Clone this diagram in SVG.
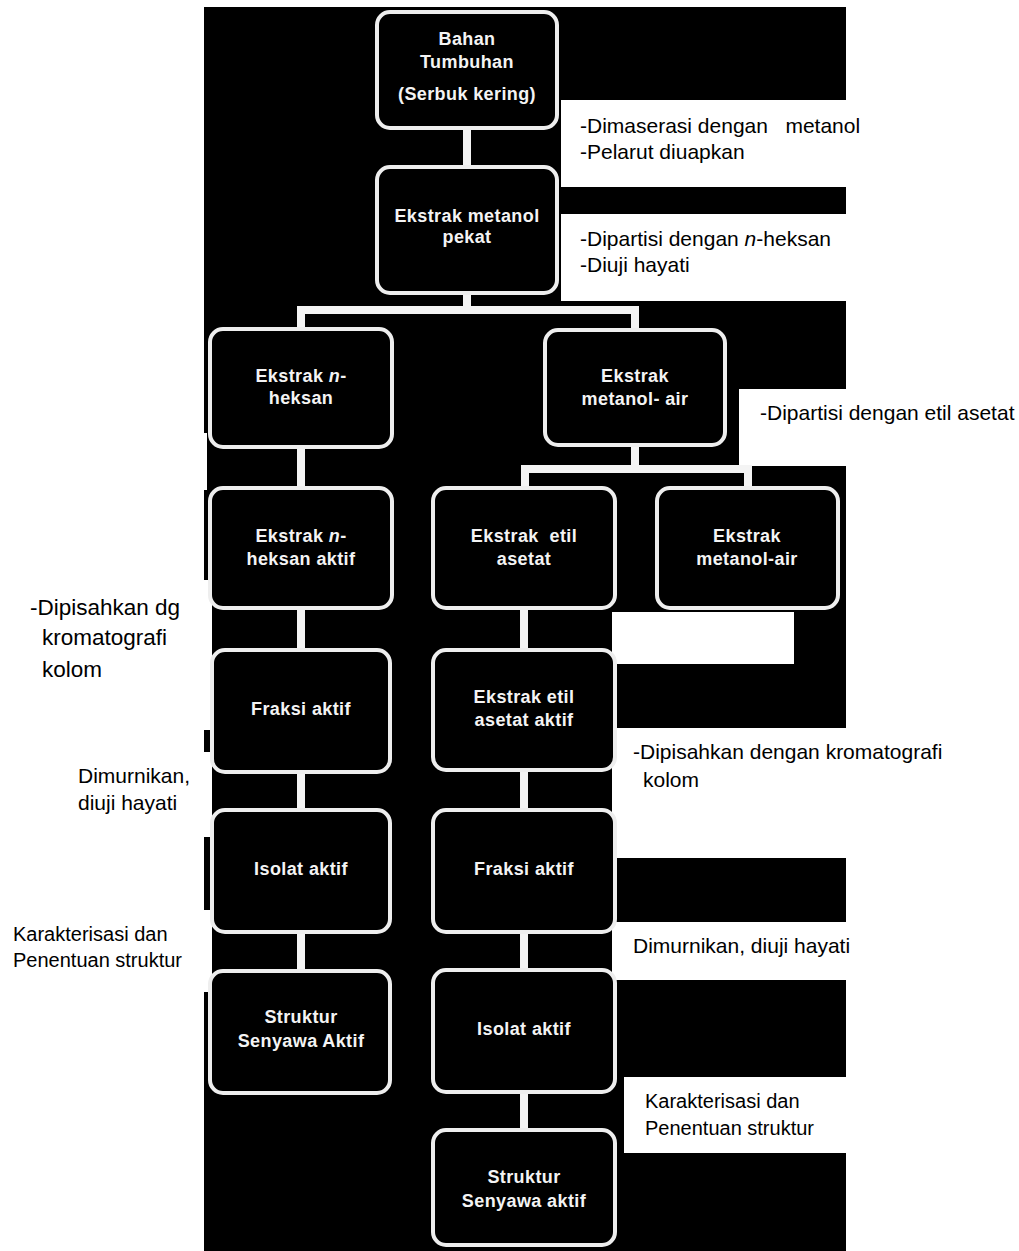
<svg xmlns="http://www.w3.org/2000/svg" width="1019" height="1251" viewBox="0 0 1019 1251">
<style>
.node rect{fill:#000;stroke:#eeeeee;stroke-width:4}
.nt{font-family:"Liberation Sans",Arial,sans-serif;font-size:18px;font-weight:bold;fill:#f4f4f4;text-anchor:middle;letter-spacing:0.4px}
.lb{font-family:"Liberation Sans",Arial,sans-serif;font-size:21px;fill:#000}
.lb2{font-family:"Liberation Sans",Arial,sans-serif;font-size:20px;fill:#000}
.lb3{font-family:"Liberation Sans",Arial,sans-serif;font-size:22.5px;fill:#000}
.wb{fill:#fff}
#connectors line{stroke:#f4f4f4;stroke-width:8}
</style>
<rect width="1019" height="1251" fill="#fff"/>
<rect x="204" y="7" width="642" height="1244" fill="#000"/>
<g id="label-boxes">
<rect class="wb" x="561" y="100" width="458" height="87"/>
<rect class="wb" x="561" y="214" width="458" height="87"/>
<rect class="wb" x="739" y="389" width="280" height="77"/>
<rect class="wb" x="612" y="612" width="182" height="52"/>
<rect class="wb" x="612" y="728" width="407" height="130"/>
<rect class="wb" x="612" y="922" width="407" height="58"/>
<rect class="wb" x="624" y="1077" width="395" height="76"/>
<rect class="wb" x="0" y="433" width="207" height="57"/>
<rect class="wb" x="0" y="580" width="212" height="150"/>
<rect class="wb" x="0" y="752" width="212" height="85"/>
<rect class="wb" x="0" y="910" width="212" height="82"/>
</g>
<g id="connectors">
<line x1="467" y1="128" x2="467" y2="167"/>
<line x1="467" y1="293" x2="467" y2="310"/>
<line x1="297" y1="310" x2="639" y2="310"/>
<line x1="301" y1="306" x2="301" y2="329"/>
<line x1="635" y1="306" x2="635" y2="330"/>
<line x1="301" y1="447" x2="301" y2="488"/>
<line x1="635" y1="445" x2="635" y2="469"/>
<line x1="521" y1="469" x2="752" y2="469"/>
<line x1="525" y1="465" x2="525" y2="488"/>
<line x1="748" y1="465" x2="748" y2="488"/>
<line x1="301" y1="608" x2="301" y2="650"/>
<line x1="301" y1="772" x2="301" y2="810"/>
<line x1="301" y1="932" x2="301" y2="971"/>
<line x1="524" y1="608" x2="524" y2="650"/>
<line x1="524" y1="770" x2="524" y2="810"/>
<line x1="524" y1="932" x2="524" y2="970"/>
<line x1="524" y1="1092" x2="524" y2="1130"/>
</g>
<g id="n1" class="node"><rect x="377" y="12" width="180" height="116" rx="13"/>
<text class="nt" x="467" y="45">Bahan</text><text class="nt" x="467" y="68">Tumbuhan</text><text class="nt" x="467" y="100">(Serbuk kering)</text></g>
<g id="n2" class="node"><rect x="377" y="167" width="180" height="126" rx="13"/>
<text class="nt" x="467" y="222">Ekstrak metanol</text><text class="nt" x="467" y="243">pekat</text></g>
<g id="n3" class="node"><rect x="210" y="329" width="182" height="118" rx="13"/>
<text class="nt" x="301" y="382">Ekstrak <tspan font-style="italic">n</tspan>-</text><text class="nt" x="301" y="404">heksan</text></g>
<g id="n4" class="node"><rect x="545" y="330" width="180" height="115" rx="13"/>
<text class="nt" x="635" y="382">Ekstrak</text><text class="nt" x="635" y="405">metanol- air</text></g>
<g id="n5" class="node"><rect x="433" y="488" width="182" height="120" rx="13"/>
<text class="nt" x="524" y="542" xml:space="preserve">Ekstrak  etil</text><text class="nt" x="524" y="565">asetat</text></g>
<g id="n6" class="node"><rect x="657" y="488" width="181" height="120" rx="13"/>
<text class="nt" x="747" y="542">Ekstrak</text><text class="nt" x="747" y="565">metanol-air</text></g>
<g id="n7" class="node"><rect x="210" y="488" width="182" height="120" rx="13"/>
<text class="nt" x="301" y="542">Ekstrak <tspan font-style="italic">n</tspan>-</text><text class="nt" x="301" y="565">heksan aktif</text></g>
<g id="n8" class="node"><rect x="212" y="650" width="178" height="122" rx="13"/>
<text class="nt" x="301" y="715">Fraksi aktif</text></g>
<g id="n9" class="node"><rect x="212" y="810" width="178" height="122" rx="13"/>
<text class="nt" x="301" y="875">Isolat aktif</text></g>
<g id="n10" class="node"><rect x="210" y="971" width="180" height="122" rx="13"/>
<text class="nt" x="301" y="1023">Struktur</text><text class="nt" x="301" y="1047">Senyawa Aktif</text></g>
<g id="n11" class="node"><rect x="433" y="650" width="182" height="120" rx="13"/>
<text class="nt" x="524" y="703">Ekstrak etil</text><text class="nt" x="524" y="726">asetat aktif</text></g>
<g id="n12" class="node"><rect x="433" y="810" width="182" height="122" rx="13"/>
<text class="nt" x="524" y="875">Fraksi aktif</text></g>
<g id="n13" class="node"><rect x="433" y="970" width="182" height="122" rx="13"/>
<text class="nt" x="524" y="1035">Isolat aktif</text></g>
<g id="n14" class="node"><rect x="433" y="1130" width="182" height="115" rx="13"/>
<text class="nt" x="524" y="1183">Struktur</text><text class="nt" x="524" y="1207">Senyawa aktif</text></g>
<g id="labels">
<text class="lb" x="580" y="133" xml:space="preserve">-Dimaserasi dengan   metanol</text>
<text class="lb" x="580" y="159">-Pelarut diuapkan</text>
<text class="lb" x="580" y="246">-Dipartisi dengan <tspan font-style="italic">n</tspan>-heksan</text>
<text class="lb" x="580" y="272">-Diuji hayati</text>
<text class="lb" x="760" y="420">-Dipartisi dengan etil asetat</text>
<text class="lb" x="633" y="759">-Dipisahkan dengan kromatografi</text>
<text class="lb" x="643" y="787">kolom</text>
<text class="lb" x="633" y="953">Dimurnikan, diuji hayati</text>
<text class="lb2" x="645" y="1108">Karakterisasi dan</text>
<text class="lb2" x="645" y="1135">Penentuan struktur</text>
<text class="lb3" x="30" y="615">-Dipisahkan dg</text>
<text class="lb3" x="42" y="645">kromatografi</text>
<text class="lb3" x="42" y="677">kolom</text>
<text class="lb" x="78" y="783">Dimurnikan,</text>
<text class="lb" x="78" y="810">diuji hayati</text>
<text class="lb2" x="13" y="941">Karakterisasi dan</text>
<text class="lb2" x="13" y="967">Penentuan struktur</text>
</g>
</svg>
